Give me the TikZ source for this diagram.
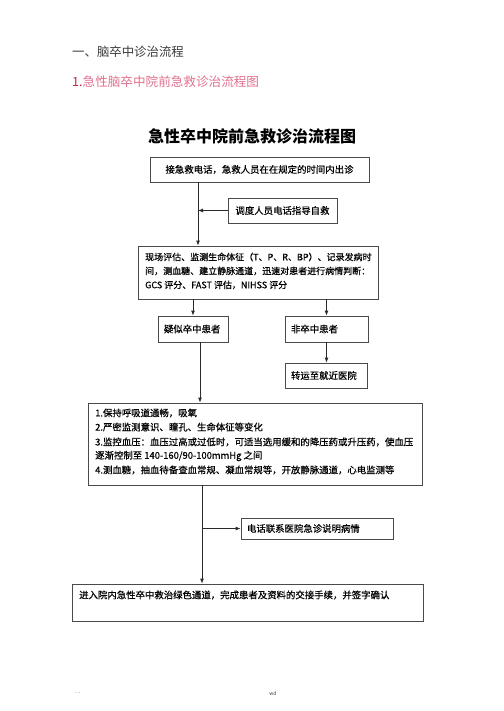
\documentclass[tikz,border=0pt]{standalone}
\usepackage{fontspec}
\setmainfont{Noto Sans CJK SC}
\newfontfamily\boxfont{Noto Sans CJK SC}[FakeBold=0.6]
\usetikzlibrary{arrows.meta}
\definecolor{boxc}{HTML}{4A4A4A}
\definecolor{linec}{HTML}{2A2A2A}
\definecolor{headc}{HTML}{3A3A3A}
\definecolor{pinkc}{HTML}{E0708E}
\definecolor{redc}{HTML}{C8203C}
\begin{document}
\begin{tikzpicture}[x=1pt,y=-1pt,
  box/.style={draw=boxc, line width=0.8pt, inner sep=0pt, font=\boxfont\fontsize{9.4}{12}\selectfont},
  lbox/.style={box, align=left, inner xsep=6pt},
  txt/.style={anchor=west, inner sep=0pt, font=\boxfont\fontsize{9.4}{12}\selectfont},
  arr/.style={draw=linec, line width=0.8pt, -{Latex[length=5pt,width=4pt]}},
  ln/.style={draw=linec, line width=0.8pt}]
\useasboundingbox (0,0) rectangle (503,711);
% headers
\node[anchor=west, inner sep=0pt, text=headc, font=\fontsize{12.4}{14}\selectfont] (h1) at (72,52) {一、脑卒中诊治流程};
\node[anchor=west, inner sep=0pt, text=pinkc, font=\fontsize{12.6}{14}\selectfont] (h2) at (72,82) {\textcolor{redc}{1.}急性脑卒中院前急救诊治流程图};
\node[inner sep=0pt, font=\fontsize{16}{18}\selectfont\bfseries] (title) at (252,136) {急性卒中院前急救诊治流程图};
% boxes
\node[box, minimum width=219pt, minimum height=25pt] (b1) at (259.5,169.5) {接急救电话，急救人员在在规定的时间内出诊};
\node[box, minimum width=109pt, minimum height=25pt] (disp) at (282.5,210.5) {调度人员电话指导自救};
\node[box, minimum width=240pt, minimum height=53pt] (b2) at (258,272.5) {};
\node[txt, font=\boxfont\fontsize{9.0}{12}\selectfont] (b2l1) at (145,257) {现场评估、监测生命体征（T、P、R、BP）、记录发病时};
\node[txt, font=\boxfont\fontsize{9.0}{12}\selectfont] (b2l2) at (145,271) {间，测血糖、建立静脉通道，迅速对患者进行病情判断：};
\node[txt, font=\boxfont\fontsize{9.0}{12}\selectfont] (b2l3) at (145,285) {GCS 评分、FAST 评估，NIHSS 评分};
\node[lbox, text width=58pt, minimum height=26pt] (sus) at (193,329) {疑似卒中患者};
\node[lbox, text width=71pt, minimum height=26pt] (non) at (326.5,329) {非卒中患者};
\node[lbox, text width=70pt, minimum height=25pt] (tr) at (326,375.5) {转运至就近医院};
\node[box, minimum width=334pt, minimum height=82pt] (b3) at (255,444) {};
\node[txt] (b3l1) at (95,413) {1.保持呼吸道通畅，吸氧};
\node[txt] (b3l2) at (95,427) {2.严密监测意识、瞳孔、生命体征等变化};
\node[txt] (b3l3) at (95,442) {3.监控血压：血压过高或过低时，可适当选用缓和的降压药或升压药，使血压};
\node[txt] (b3l4) at (95,456) {逐渐控制至 140-160/90-100mmHg 之间};
\node[txt] (b3l5) at (95,470) {4.测血糖，抽血待备查血常规、凝血常规等，开放静脉通道，心电监测等};
\node[lbox, text width=140pt, minimum height=21pt] (call) at (317,528.5) {电话联系医院急诊说明病情};
\node[box, minimum width=351pt, minimum height=37pt] (b4) at (247.5,602.5) {};
\node[txt] (b4l1) at (79,595) {进入院内急性卒中救治绿色通道，完成患者及资料的交接手续，并签字确认};
% footer
\node[inner sep=0pt, text=headc, font=\fontsize{6}{7}\selectfont] (f1) at (78,693) {. .};
\node[inner sep=0pt, text=headc, font=\fontsize{5}{6}\selectfont] (f2) at (273,694) {wd};
% connector coordinates
\coordinate (xa) at (198,0);
\coordinate (xb) at (200,0);
\coordinate (xc) at (202,0);
\coordinate (br) at (202,528.5);
% connectors
\draw[arr] (b1.south -| xa) -- (b2.north -| xa);
\draw[arr] (disp.west) -- (disp.west -| xa);
\draw[arr] (b2.south -| sus) -- (sus.north);
\draw[arr] (b2.south -| non) -- (non.north);
\draw[arr] (non.south) -- (tr.north -| non);
\draw[arr] (sus.south -| xb) -- (b3.north -| xb);
\draw[arr] (b3.south -| xc) -- (b4.north -| xc);
\draw[arr] (br) -- (call.west);
\end{tikzpicture}
\end{document}
